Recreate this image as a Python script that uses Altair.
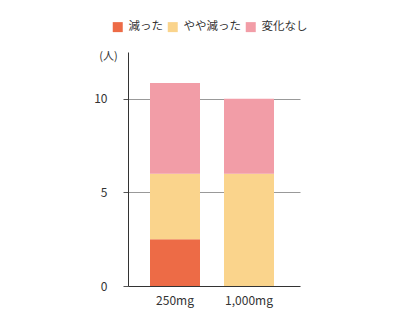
import altair as alt
import pandas as pd

doses = ["250mg", "1,000mg"]
series = ["減った", "やや減った", "変化なし"]
decreased = [2.5, 0]
slightly = [3.5, 6]
nochange = [4.85, 4]
colors = ["#ED6B46", "#FAD48C", "#F29DA7"]
y_ticks = [0, 5, 10]

rows = []
for i, d in enumerate(doses):
    for j, (s, vals) in enumerate(zip(series, [decreased, slightly, nochange])):
        rows.append({"dose": d, "group": s, "value": vals[i], "order": j})
df = pd.DataFrame(rows)

font = "Noto Sans CJK JP"

chart = alt.Chart(df).mark_bar().encode(
    x=alt.X(
        "dose:N", sort=doses,
        scale=alt.Scale(paddingInner=24 / 74, paddingOuter=24 / 74, align=22 / 48),
        axis=alt.Axis(title=None, labelAngle=0, domainColor="#333", ticks=False,
                      labelPadding=9, labelFontSize=12, labelColor="#333", labelFont=font),
    ),
    y=alt.Y(
        "value:Q", stack="zero",
        scale=alt.Scale(domain=[0, 12.5], nice=False),
        axis=alt.Axis(
            values=y_ticks, title="(人)", titleAngle=0, titleX=-20, titleY=4,
            titleAlign="center", titleBaseline="middle", titleFontWeight="normal",
            titleFontSize=11, titleColor="#333", titleFont=font,
            domainColor="#333", tickColor="#555", tickSize=5,
            labelPadding=16, labelFontSize=12, labelColor="#333", labelFont=font,
            grid=True,
            gridColor={"condition": {"test": "datum.value === 0", "value": "transparent"}, "value": "#999"},
        ),
    ),
    color=alt.Color(
        "group:N", sort=series,
        scale=alt.Scale(domain=series, range=colors),
        legend=alt.Legend(
            title=None, orient="none", legendX=-16, legendY=-31, direction="horizontal",
            symbolType="square", symbolSize=100, symbolStrokeWidth=0, symbolOpacity=1,
            labelFontSize=11.5, labelFont=font, labelColor="#333", labelOffset=5,
            columnPadding=4, padding=0,
        ),
    ),
    order=alt.Order("order:Q"),
).properties(
    width=172, height=234,
    autosize=alt.AutoSizeParams(type="none"),
    padding={"left": 128, "top": 52, "right": 100, "bottom": 34},
).configure_view(stroke=None)

chart.save("out.html", embed_options={"renderer": "svg", "actions": False})
